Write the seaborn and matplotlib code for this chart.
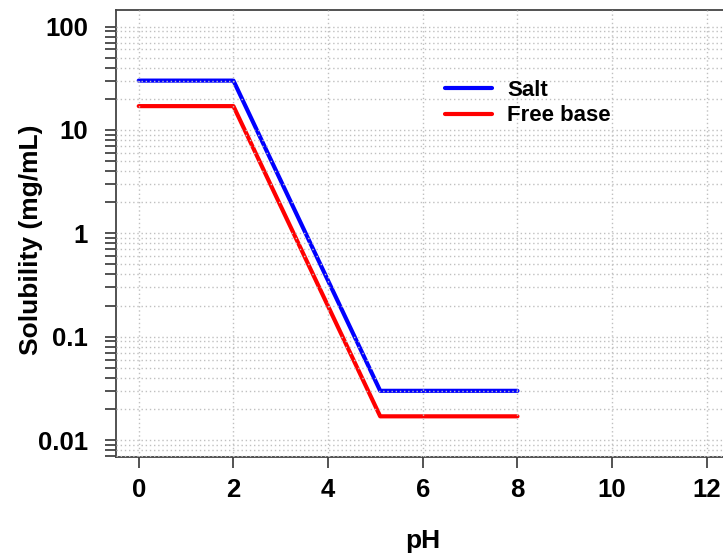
import matplotlib
matplotlib.use("Agg")
import matplotlib.pyplot as plt
import matplotlib.ticker as mticker
from matplotlib.lines import Line2D
import seaborn as sns
import pandas as pd
import numpy as np

# Data
ph = [0, 2, 5.1, 8]
salt = [30, 30, 0.03, 0.03]
free_base = [17, 17, 0.017, 0.017]
series_names = ["Salt", "Free base"]
series_colors = ["#0000ff", "#ff0000"]
x_ticks = [0, 2, 4, 6, 8, 10, 12]
y_ticks = [0.01, 0.1, 1, 10, 100]
y_tick_labels = ["0.01", "0.1", "1", "10", "100"]

df = pd.concat([
    pd.DataFrame({"pH": ph, "Solubility": salt, "Form": series_names[0]}),
    pd.DataFrame({"pH": ph, "Solubility": free_base, "Form": series_names[1]}),
], ignore_index=True)

sns.set_style("white")
plt.rcParams["font.family"] = ["Liberation Sans", "DejaVu Sans"]
plt.rcParams["text.color"] = "black"
plt.rcParams["axes.labelcolor"] = "black"
plt.rcParams["xtick.color"] = "black"
plt.rcParams["ytick.color"] = "black"

W, H = 723, 556
fig = plt.figure(figsize=(W / 100, H / 100), dpi=100)
left, right, top, bottom = 116, 729.6, 10, 456.7
ax = fig.add_axes([left / W, 1 - bottom / H, (right - left) / W, (bottom - top) / H])

sns.lineplot(data=df, x="pH", y="Solubility", hue="Form",
             palette=dict(zip(series_names, series_colors)),
             linewidth=3, ax=ax, legend=False, sort=False, estimator=None)

ax.set_yscale("log")
ax.set_xlim(-0.48, 12.48)
ax.set_ylim(10 ** -2.16, 10 ** 2.16)

ax.set_xticks(x_ticks)
ax.set_xticklabels([str(t) for t in x_ticks])
ax.yaxis.set_major_locator(mticker.FixedLocator(y_ticks))
ax.yaxis.set_major_formatter(mticker.FixedFormatter(y_tick_labels))
ax.yaxis.set_minor_locator(mticker.LogLocator(base=10, subs=np.arange(2, 10)))
ax.yaxis.set_minor_formatter(mticker.NullFormatter())

for lab in ax.get_xticklabels() + ax.get_yticklabels():
    lab.set_fontweight("bold")
    lab.set_fontsize(18.5)
    lab.set_color("black")

ax.tick_params(axis="both", which="both", direction="out", length=8, width=1.3,
               color="#444444", left=True, bottom=True)
ax.tick_params(axis="x", pad=7)
ax.tick_params(axis="y", pad=12)

for s in ax.spines.values():
    s.set_visible(True)
    s.set_color("#444444")
    s.set_linewidth(1.3)

ax.set_axisbelow(False)
ax.grid(True, which="major", axis="x", color="#c0c0c0", linestyle=(0, (1, 2)), linewidth=1)
ax.grid(True, which="both", axis="y", color="#c0c0c0", linestyle=(0, (1, 2)), linewidth=1)

ax.set_xlabel("pH", fontsize=19, fontweight="bold", labelpad=20, color="black")
ax.set_ylabel("Solubility (mg/mL)", fontsize=19, fontweight="bold", color="black")
ax.yaxis.set_label_coords((43 - left) / (right - left), 1 - (240 - top) / (bottom - top))

handles = [Line2D([], [], color=c, linewidth=3) for c in series_colors]
leg = ax.legend(handles, series_names, loc="upper left",
                bbox_to_anchor=((436 - left) / (right - left), 1 - (71 - top) / (bottom - top)),
                frameon=False, prop={"weight": "bold", "size": 16}, handlelength=2.1,
                handletextpad=0.7, labelspacing=0.2, borderaxespad=0)
for t in leg.get_texts():
    t.set_color("black")

fig.savefig("out.png", dpi=100)
